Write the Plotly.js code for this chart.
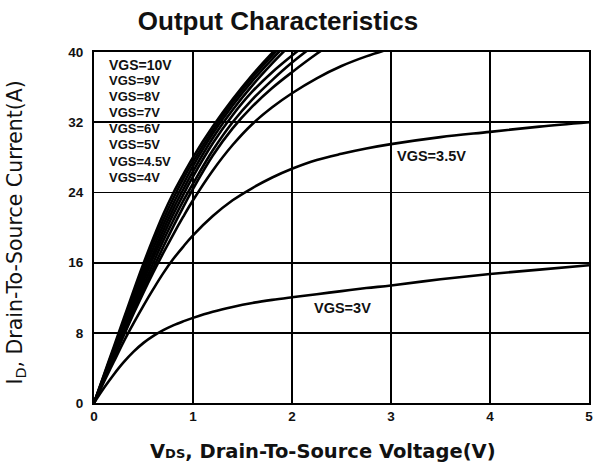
<!DOCTYPE html>
<html>
<head>
<meta charset="utf-8">
<script src="https://cdn.plot.ly/plotly-3.0.1.min.js"></script>
<style>html,body{margin:0;padding:0;background:#fff;overflow:hidden;}#chart{width:593px;height:466px;}</style>
</head>
<body>
<div id="chart"></div>
<script>
// Drain-source voltage (V)
const vds = [0, 0.1, 0.2, 0.3, 0.4, 0.5, 0.6, 0.7, 0.8, 0.9, 1.0, 1.2, 1.4, 1.6, 1.8, 2.0, 2.25, 2.5, 2.75, 3.0, 3.5, 4.0, 4.5, 5.0];
// Drain current (A) for each gate voltage
const id_vgs10 = [0, 3.2, 6.4, 9.6, 12.8, 15.9, 18.8, 21.5, 23.9, 26.0, 28.0, 31.5, 34.6, 37.4, 39.9, 42.2];
const id_vgs9  = [0, 3.1, 6.2, 9.3, 12.4, 15.4, 18.3, 20.9, 23.3, 25.5, 27.5, 31.1, 34.3, 37.1, 39.6, 41.9];
const id_vgs8  = [0, 3.0, 6.0, 9.0, 12.0, 14.9, 17.7, 20.3, 22.7, 24.9, 27.0, 30.7, 33.9, 36.7, 39.2, 41.5];
const id_vgs7  = [0, 2.9, 5.8, 8.7, 11.6, 14.4, 17.1, 19.7, 22.1, 24.3, 26.4, 30.2, 33.4, 36.2, 38.7, 41.0];
const id_vgs6  = [0, 2.8, 5.6, 8.4, 11.2, 13.9, 16.6, 19.1, 21.5, 23.7, 25.8, 29.6, 32.8, 35.5, 37.7, 39.6, 41.8];
const id_vgs5  = [0, 2.7, 5.4, 8.1, 10.8, 13.4, 16.0, 18.5, 20.8, 23.0, 25.0, 28.8, 32.0, 34.6, 36.8, 38.8, 41.0];
const id_vgs45 = [0, 2.6, 5.2, 7.8, 10.4, 12.9, 15.4, 17.8, 20.1, 22.3, 24.4, 28.2, 31.3, 33.8, 35.9, 37.7, 39.8, 41.7];
const id_vgs4  = [0, 2.6, 5.2, 7.7, 10.2, 12.6, 14.9, 17.1, 19.2, 21.2, 23.1, 26.5, 29.4, 31.8, 33.7, 35.3, 37.0, 38.4, 39.5, 40.4];
const id_vgs35 = [0, 2.4, 4.7, 7.0, 9.1, 11.1, 13.0, 14.8, 16.4, 17.8, 19.1, 21.3, 23.1, 24.5, 25.7, 26.7, 27.7, 28.4, 29.0, 29.5, 30.3, 30.9, 31.5, 32.0];
const id_vgs3  = [0, 1.7, 3.25, 4.65, 5.85, 6.85, 7.65, 8.3, 8.85, 9.3, 9.7, 10.4, 10.95, 11.4, 11.75, 12.05, 12.4, 12.75, 13.1, 13.4, 14.1, 14.7, 15.2, 15.7];

const seriesNames = ["VGS=10V", "VGS=9V", "VGS=8V", "VGS=7V", "VGS=6V", "VGS=5V", "VGS=4.5V", "VGS=4V", "VGS=3.5V", "VGS=3V"];
const seriesData = [id_vgs10, id_vgs9, id_vgs8, id_vgs7, id_vgs6, id_vgs5, id_vgs45, id_vgs4, id_vgs35, id_vgs3];
const xTicks = [0, 1, 2, 3, 4, 5];
const yTicks = [0, 8, 16, 24, 32, 40];

const FONT = "Arial, 'Liberation Sans', sans-serif";
const WIDE = "'DejaVu Sans', Verdana, sans-serif";

const traces = seriesData.map((ys, i) => ({
  x: vds.slice(0, ys.length),
  y: ys,
  name: seriesNames[i],
  mode: "lines",
  type: "scatter",
  line: {color: "#000", width: 2.6, shape: "spline", smoothing: 1},
  hoverinfo: "skip"
}));

// legend label rows (pixel centres in the reference)
const legendRowsPx = [65, 81, 97, 113, 129, 145, 162, 178];
const plotTop = 52, plotH = 351.5;
const annotations = seriesNames.slice(0, 8).map((t, i) => ({
  xref: "paper", yref: "paper",
  x: 0.027, y: 1 - (legendRowsPx[i] - plotTop) / plotH,
  xanchor: "left", yanchor: "middle",
  text: "<b>" + t + "</b>",
  showarrow: false,
  font: {family: FONT, size: i === 0 ? 14 : 13, color: "#111"}
}));
annotations.push({
  xref: "x", yref: "y", x: 3.04, y: 28.2, xanchor: "left", yanchor: "middle",
  text: "<b>" + seriesNames[8] + "</b>", showarrow: false,
  font: {family: FONT, size: 14.5, color: "#111"}
});
annotations.push({
  xref: "x", yref: "y", x: 2.2, y: 10.8, xanchor: "left", yanchor: "middle",
  text: "<b>" + seriesNames[9] + "</b>", showarrow: false,
  font: {family: FONT, size: 14.5, color: "#111"}
});
// axis titles
annotations.push({
  xref: "paper", yref: "paper", x: (323 - 94) / 495, y: -0.138,
  xanchor: "center", yanchor: "middle",
  text: "<b>V<span style='font-size:13px'>DS</span>, Drain-To-Source Voltage(V)</b>",
  showarrow: false,
  font: {family: WIDE, size: 19.5, color: "#111"}
});
annotations.push({
  xref: "paper", yref: "paper", x: -0.158, y: 0.485,
  xanchor: "center", yanchor: "middle", textangle: -90,
  text: "I<sub>D</sub>, Drain-To-Source Current(A)",
  showarrow: false,
  font: {family: WIDE, size: 20.5, color: "#111"}
});

const layout = {
  width: 593, height: 466,
  margin: {l: 94, r: 4, t: 52, b: 62.5},
  paper_bgcolor: "#fff", plot_bgcolor: "#fff",
  showlegend: false,
  title: {
    text: "<b>Output Characteristics</b>",
    font: {family: FONT, size: 26, color: "#111"},
    x: 278 / 593, xref: "container", xanchor: "center",
    y: 0.955, yref: "container", yanchor: "middle"
  },
  xaxis: {
    range: [0, 5], tickvals: xTicks, ticktext: xTicks.map(v => "<b>" + v + "</b>"),
    showgrid: true, gridcolor: "#000", gridwidth: 1.8,
    showline: true, linecolor: "#000", linewidth: 2, mirror: true,
    zeroline: false, ticks: "", ticklabeloverflow: "allow",
    tickfont: {family: FONT, size: 13.5, color: "#111"}, fixedrange: true
  },
  yaxis: {
    range: [0, 40], tickvals: yTicks, ticktext: yTicks.map(v => "<b>" + v + "</b>"),
    showgrid: true, gridcolor: "#000", gridwidth: 1.8,
    showline: true, linecolor: "#000", linewidth: 2, mirror: true,
    zeroline: false, ticks: "outside", ticklen: 6, tickcolor: "rgba(0,0,0,0)",
    tickfont: {family: FONT, size: 13.5, color: "#111"}, fixedrange: true
  },
  annotations: annotations
};

Plotly.newPlot("chart", traces, layout, {displayModeBar: false, staticPlot: true});
</script>
</body>
</html>
